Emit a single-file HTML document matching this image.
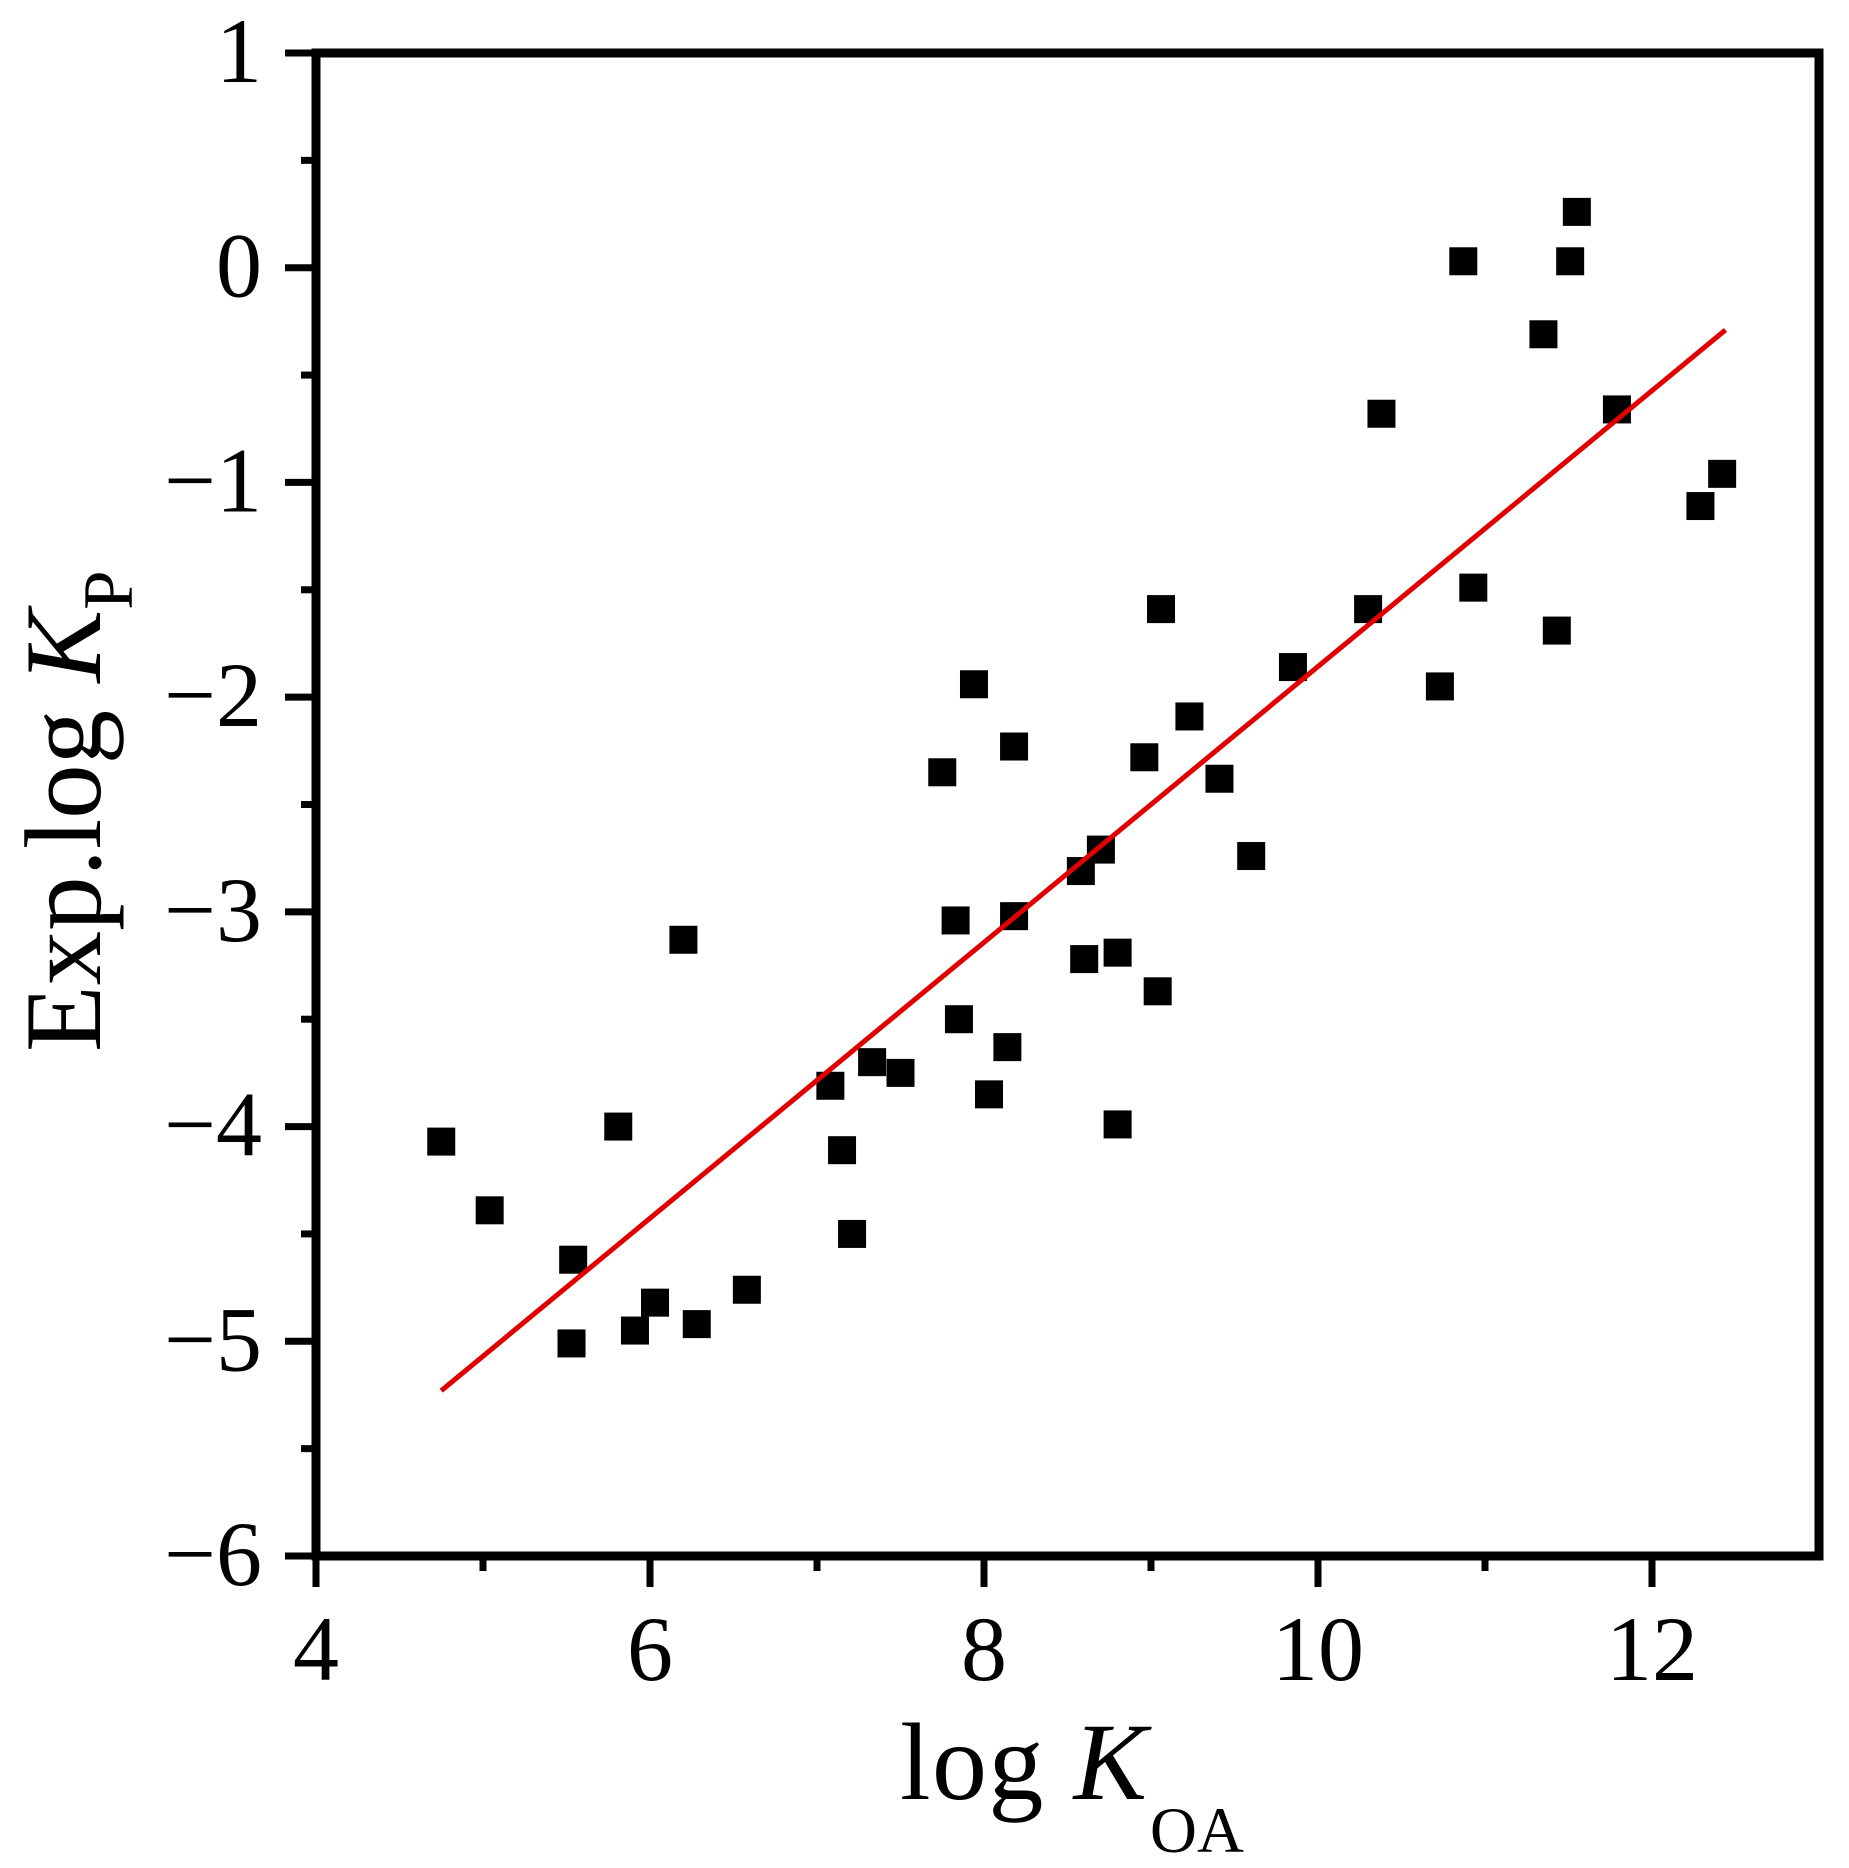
<!DOCTYPE html>
<html><head><meta charset="utf-8"><style>
html,body{margin:0;padding:0;background:#fff}
svg{display:block}
text{font-family:"Liberation Serif",serif;fill:#000}
</style></head><body>
<svg id="chart" width="1849" height="1868" viewBox="0 0 1849 1868" xmlns="http://www.w3.org/2000/svg">
<g id="ticks"></g>
<g id="labels"></g>
<g id="points"></g>
<g id="fit"></g>
<rect x="316" y="53" width="1503" height="1503" fill="none" stroke="#000" stroke-width="9"/>
<text x="900" y="1799" font-size="110"><tspan textLength="247">log <tspan font-style="italic">K</tspan></tspan><tspan font-size="65" x="1150" y="1852">OA</tspan></text>
<text transform="translate(100,1052) rotate(-90)" font-size="109">Exp.log <tspan font-style="italic">K</tspan><tspan font-size="71" dy="32">P</tspan></text>
</svg>
<script>
const xVals=[4.75,5.04,5.54,5.53,5.81,5.91,6.03,6.28,6.20,6.58,7.08,7.15,7.21,7.33,7.50,7.75,7.83,7.85,7.94,8.03,8.14,8.18,8.18,8.58,8.60,8.70,8.80,8.80,8.96,9.04,9.06,9.23,9.41,9.60,9.85,10.30,10.38,10.73,10.87,10.93,11.35,11.43,11.51,11.55,11.79,12.29,12.42];
const yVals=[-4.07,-4.39,-4.62,-5.01,-4.0,-4.95,-4.82,-4.92,-3.13,-4.76,-3.81,-4.11,-4.5,-3.7,-3.75,-2.35,-3.04,-3.5,-1.94,-3.85,-3.63,-2.23,-3.02,-2.81,-3.22,-2.71,-3.19,-3.99,-2.28,-3.37,-1.59,-2.09,-2.38,-2.74,-1.86,-1.59,-0.68,-1.95,0.03,-1.49,-0.31,-1.69,0.03,0.26,-0.66,-1.11,-0.96];
const fitX=[4.75,12.44];
const fitY=[-5.23,-0.29];
const xTicks=[4,6,8,10,12];
const yTicks=[1,0,-1,-2,-3,-4,-5,-6];
const xMinor=[5,7,9,11];
const yMinor=[0.5,-0.5,-1.5,-2.5,-3.5,-4.5,-5.5];
const X0=316,X1=1819,Y0=1556,Y1=53;
function sx(v){return X0+(v-4)/(13-4)*(X1-X0);}
function sy(v){return Y0-(v+6)/7*(Y0-Y1);}
const NS='http://www.w3.org/2000/svg';
function mk(tag,attrs,parent){const e=document.createElementNS(NS,tag);for(const k in attrs)e.setAttribute(k,attrs[k]);parent.appendChild(e);return e;}
const tg=document.getElementById('ticks'),lg=document.getElementById('labels'),pg=document.getElementById('points'),fg=document.getElementById('fit');
xTicks.forEach(v=>{
  const t=mk('line',{x1:sx(v),x2:sx(v),y1:Y0,y2:Y0+31,stroke:'#000','stroke-width':7},tg);
  
  
  const l=mk('text',{x:sx(v),y:1680,'font-size':92,'text-anchor':'middle'},lg);
  l.textContent=String(v);
  
  
});
xMinor.forEach(v=>{
  const t=mk('line',{x1:sx(v),x2:sx(v),y1:Y0,y2:Y0+15,stroke:'#000','stroke-width':7},tg);
  
  
});
yTicks.forEach(v=>{
  const t=mk('line',{x1:X0-31,x2:X0,y1:sy(v),y2:sy(v),stroke:'#000','stroke-width':7},tg);
  
  
  const l=mk('text',{x:262,y:sy(v)+29,'font-size':92,'text-anchor':'end'},lg);
  l.textContent=v<0?'\u2212'+(-v):String(v);
  
  
});
yMinor.forEach(v=>{
  const t=mk('line',{x1:X0-15,x2:X0,y1:sy(v),y2:sy(v),stroke:'#000','stroke-width':7},tg);
  
  
});
xVals.forEach((v,i)=>{
  const s=28;
  const r=mk('rect',{x:sx(v)-s/2,y:sy(yVals[i])-s/2,width:s,height:s,fill:'#000'},pg);
  
  
});
const fl=mk('line',{x1:sx(fitX[0]),y1:sy(fitY[0]),x2:sx(fitX[1]),y2:sy(fitY[1]),stroke:'#e00000','stroke-width':5},fg);


</script>
</body></html>
